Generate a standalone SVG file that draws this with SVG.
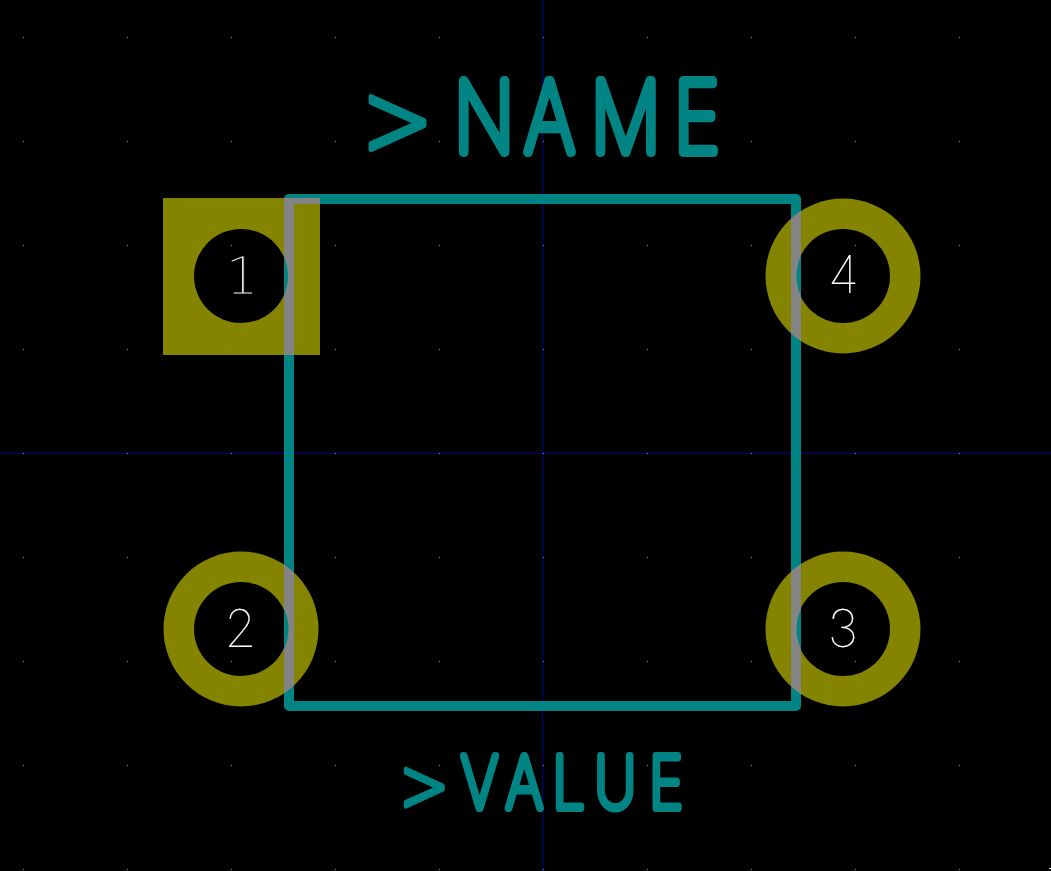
<svg xmlns="http://www.w3.org/2000/svg" width="1051" height="871" viewBox="0 0 1051 871">
<defs>
<style>
.pad{fill:#848400}
.hole{fill:#000}
.fab{fill:none;stroke:#008484;stroke-width:10;stroke-linejoin:round}
.over{fill:none;stroke:#848484;stroke-width:10}
.ref{font-family:Inter,"Liberation Sans",sans-serif;font-weight:100;fill:#008484;stroke:#008484;stroke-linejoin:round;stroke-linecap:round}
.gt{font-family:"DejaVu Sans ExtraLight","DejaVu Sans Light","DejaVu Sans",sans-serif;font-weight:200}
.num{font-family:Inter,"Liberation Sans",sans-serif;font-weight:100;font-size:52px;fill:#fff;stroke:#fff;stroke-width:.15;text-anchor:middle}
.axis{stroke:#000084;stroke-width:1}
</style>
<pattern id="grid" x="23" y="37" width="104" height="104" patternUnits="userSpaceOnUse"><rect x="0" y="0" width="1" height="1" fill="#848484"/></pattern>
<clipPath id="copper"><path clip-rule="evenodd" d="M163 198H320V355H163ZM194 276a47 47 0 1 0 94 0a47 47 0 1 0 -94 0Z"/><path clip-rule="evenodd" d="M765.500 276a77.500 77.500 0 1 0 155 0a77.500 77.500 0 1 0 -155 0ZM796.500 276a47 47 0 1 0 94 0a47 47 0 1 0 -94 0Z"/><path clip-rule="evenodd" d="M163.500 629a77.500 77.500 0 1 0 155 0a77.500 77.500 0 1 0 -155 0ZM194.500 629a47 47 0 1 0 94 0a47 47 0 1 0 -94 0Z"/><path clip-rule="evenodd" d="M765.500 629a77.500 77.500 0 1 0 155 0a77.500 77.500 0 1 0 -155 0ZM796.500 629a47 47 0 1 0 94 0a47 47 0 1 0 -94 0Z"/></clipPath>
</defs>
<rect width="1051" height="871" fill="#000"/>
<line class="axis" x1="542.500" y1="0" x2="542.500" y2="871"/>
<line class="axis" x1="0" y1="453.500" x2="1051" y2="453.500"/>
<g id="pad1"><rect class="pad" x="163" y="198" width="157" height="157"/><circle class="hole" cx="241" cy="276" r="47"/></g>
<g id="pad2"><circle class="pad" cx="241" cy="629" r="77.500"/><circle class="hole" cx="241" cy="629" r="47"/></g>
<g id="pad3"><circle class="pad" cx="843" cy="629" r="77.500"/><circle class="hole" cx="843" cy="629" r="47"/></g>
<g id="pad4"><circle class="pad" cx="843" cy="276" r="77.500"/><circle class="hole" cx="843" cy="276" r="47"/></g>
<g id="connectors"><rect class="fab" x="289" y="199" width="507" height="507"/><rect class="over" x="289" y="199" width="507" height="507" clip-path="url(#copper)"/></g>
<rect width="1051" height="871" fill="url(#grid)"/>
<rect x="1049" y="868" width="2" height="1" fill="#fff"/>
<text class="ref" transform="translate(366 152) scale(0.8 1)" font-size="97.600" stroke-width="10" x="-5 110 198 281 385" y="4 0 0 0 0"><tspan class="gt" stroke-width="6" font-size="106">&gt;</tspan>NAME</text>
<text class="ref" transform="translate(402 808) scale(0.8 1)" font-size="71.500" stroke-width="8" x="-3 74 130 188 241 309" y="3 0 0 0 0 0"><tspan class="gt" stroke-width="5" font-size="74">&gt;</tspan>VALUE</text>
<text class="num" x="242" y="293.500" style="font-family:'DejaVu Sans ExtraLight','DejaVu Sans Light',Inter,sans-serif;font-weight:200;font-size:52px;stroke:#000;stroke-width:1">1</text>
<text class="num" x="240.500" y="646.500">2</text>
<text class="num" x="843" y="646.500">3</text>
<text class="num" x="843.500" y="293">4</text>
</svg>
